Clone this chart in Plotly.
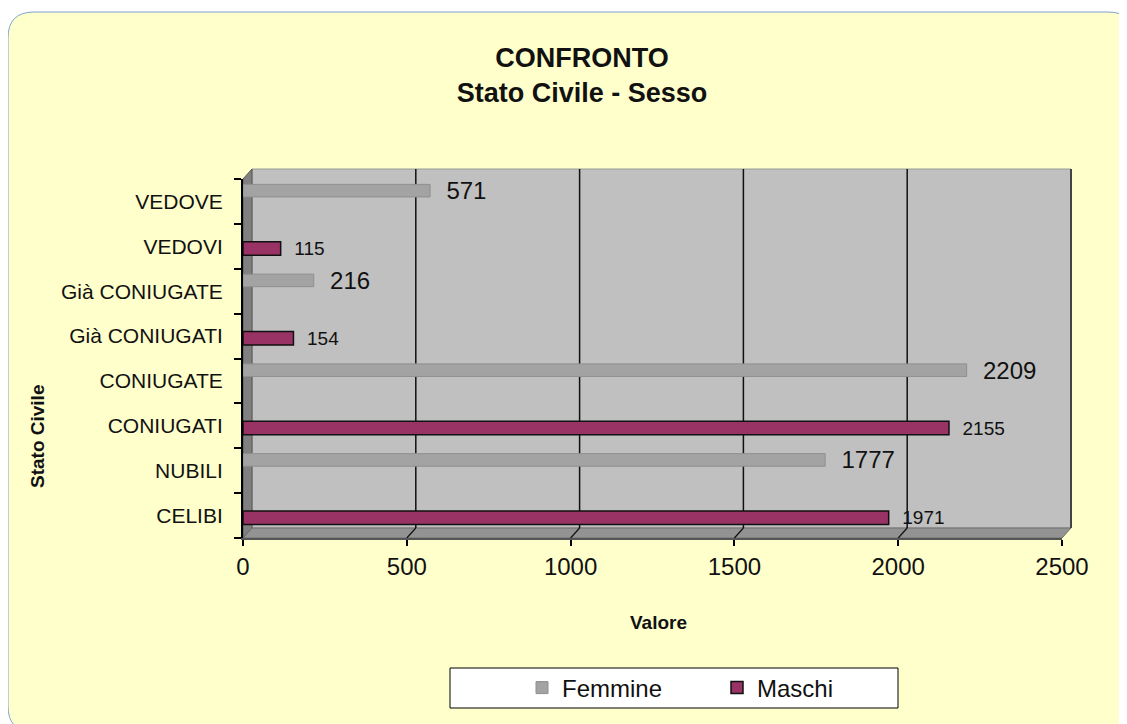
import plotly.graph_objects as go

# ---- data ----
categories = ["CELIBI", "NUBILI", "CONIUGATI", "CONIUGATE",
              "Già CONIUGATI", "Già CONIUGATE", "VEDOVI", "VEDOVE"]
femmine_cats = ["NUBILI", "CONIUGATE", "Già CONIUGATE", "VEDOVE"]
femmine_vals = [1777, 2209, 216, 571]
maschi_cats = ["CELIBI", "CONIUGATI", "Già CONIUGATI", "VEDOVI"]
maschi_vals = [1971, 2155, 154, 115]
x_ticks = [0, 500, 1000, 1500, 2000, 2500]

FONT = "Liberation Sans, Arial, sans-serif"
W, H = 1127, 724
OFF = 8  # page body margin
# plot area in screen pixels
L, R, T, B = 243, 1062, 179, 538
DX, DY = 9, 10  # 3D depth offset in pixels


def px(x):
    return (x - L) / (R - L)


def py(y):
    return (B - y) / (B - T)


fig = go.Figure()
fig.add_trace(go.Bar(
    name="Femmine", y=femmine_cats, x=femmine_vals, orientation="h",
    offset=0.1, width=0.28,
    marker=dict(color="#A3A3A3", line=dict(color="#8F8F8F", width=1)),
    texttemplate="  %{x}", textposition="outside", constraintext="none",
    textfont=dict(size=24, color="#111111", family=FONT),
    cliponaxis=False,
))
fig.add_trace(go.Bar(
    name="Maschi", y=maschi_cats, x=maschi_vals, orientation="h",
    offset=-0.2, width=0.3,
    marker=dict(color="#993366", line=dict(color="#111111", width=1.5)),
    texttemplate="  %{x}", textposition="outside", constraintext="none",
    textfont=dict(size=19, color="#111111", family=FONT),
    cliponaxis=False,
))

shapes = []
# rounded yellow chart background
x0b, y0b, x1b, y1b, r = 8, 12, 1134, 732, 26
bg_path = (
    f"M {px(x0b + r)} {py(y0b)} L {px(x1b - r)} {py(y0b)} "
    f"Q {px(x1b)} {py(y0b)} {px(x1b)} {py(y0b + r)} "
    f"L {px(x1b)} {py(y1b - r)} Q {px(x1b)} {py(y1b)} {px(x1b - r)} {py(y1b)} "
    f"L {px(x0b + r)} {py(y1b)} Q {px(x0b)} {py(y1b)} {px(x0b)} {py(y1b - r)} "
    f"L {px(x0b)} {py(y0b + r)} Q {px(x0b)} {py(y0b)} {px(x0b + r)} {py(y0b)} Z"
)
shapes.append(dict(type="path", xref="paper", yref="paper", path=bg_path,
                   fillcolor="#FFFFCC", line=dict(color="#7FA3D1", width=1),
                   layer="below"))
# back wall
shapes.append(dict(type="rect", xref="paper", yref="paper",
                   x0=px(L + DX), x1=px(R + DX), y0=py(B - DY), y1=py(T - DY),
                   fillcolor="#C0C0C0", line=dict(color="#9A9A9A", width=1),
                   layer="below"))
shapes.append(dict(type="line", xref="paper", yref="paper",
                   x0=px(R + DX), x1=px(R + DX), y0=py(B - DY), y1=py(T - DY),
                   line=dict(color="#444444", width=2), layer="below"))
# left wall
shapes.append(dict(type="path", xref="paper", yref="paper",
                   path=(f"M {px(L)} {py(T)} L {px(L + DX)} {py(T - DY)} "
                         f"L {px(L + DX)} {py(B - DY)} L {px(L)} {py(B)} Z"),
                   fillcolor="#808080", line=dict(color="#555555", width=1),
                   layer="below"))
# floor
shapes.append(dict(type="path", xref="paper", yref="paper",
                   path=(f"M {px(L)} {py(B)} L {px(L + DX)} {py(B - DY)} "
                         f"L {px(R + DX)} {py(B - DY)} L {px(R)} {py(B)} Z"),
                   fillcolor="#939393", line=dict(color="#6E6E6E", width=1),
                   layer="below"))
# gridlines on back wall and floor
for v in x_ticks[1:-1]:
    shapes.append(dict(type="line", xref="x", xsizemode="pixel", xanchor=v,
                       x0=DX, x1=DX, yref="paper", y0=py(B - DY), y1=py(T - DY),
                       line=dict(color="#111111", width=1.5), layer="below"))
    shapes.append(dict(type="line", xref="x", xsizemode="pixel", xanchor=v,
                       x0=0, x1=DX, yref="paper", y0=py(B), y1=py(B - DY),
                       line=dict(color="#111111", width=1.2), layer="below"))
# legend box
shapes.append(dict(type="rect", xref="paper", yref="paper",
                   x0=px(450), x1=px(898), y0=py(708), y1=py(668),
                   fillcolor="white", line=dict(color="black", width=1),
                   layer="below"))

annotations = [
    dict(text="<b>Valore</b>", xref="paper", yref="paper",
         x=px(658), y=py(622), xanchor="center", yanchor="middle",
         showarrow=False,
         font=dict(size=19, family=FONT, color="#111111")),
    dict(text="<b>Stato Civile</b>", xref="paper", yref="paper",
         x=px(37), y=py(437), xanchor="center", yanchor="middle",
         showarrow=False, textangle=-90,
         font=dict(size=19, family=FONT, color="#111111")),
]

fig.update_layout(
    width=W, height=H,
    margin=dict(l=L - OFF, r=W - (R - OFF), t=T - OFF, b=H - (B - OFF), pad=0),
    paper_bgcolor="white", plot_bgcolor="rgba(0,0,0,0)",
    font=dict(family=FONT, color="#111111"),
    title=dict(text="<b>CONFRONTO<br>Stato Civile - Sesso</b>",
               x=(582 - OFF) / W, xanchor="center", xref="container",
               y=1 - (75 - OFF - 8) / H, yanchor="middle", yref="container",
               font=dict(size=27, family=FONT, color="#111111")),
    barmode="overlay",
    showlegend=True,
    legend=dict(orientation="h", x=px(522), y=py(688), xanchor="left",
                yanchor="middle", bgcolor="rgba(0,0,0,0)",
                entrywidth=150, entrywidthmode="pixels",
                font=dict(size=24, family=FONT, color="#111111"),
                traceorder="normal"),
    xaxis=dict(range=[0, 2500], tickvals=x_ticks, ticks="outside", ticklen=6,
               tickcolor="black", tickwidth=1.5, showgrid=False, zeroline=False,
               showline=True, linecolor="#555555", linewidth=1.5,
               tickfont=dict(size=24, family=FONT, color="#111111")),
    yaxis=dict(type="category", categoryorder="array", categoryarray=categories,
               range=[-0.5, 7.5], tickson="boundaries", ticks="outside",
               ticklen=7, tickcolor="black", tickwidth=1.5, showgrid=False,
               zeroline=False, showline=True, linecolor="black", linewidth=2,
               ticklabelstandoff=14,
               tickfont=dict(size=21, family=FONT, color="#111111")),
    shapes=shapes,
    annotations=annotations,
)

fig.write_html("out.html")
